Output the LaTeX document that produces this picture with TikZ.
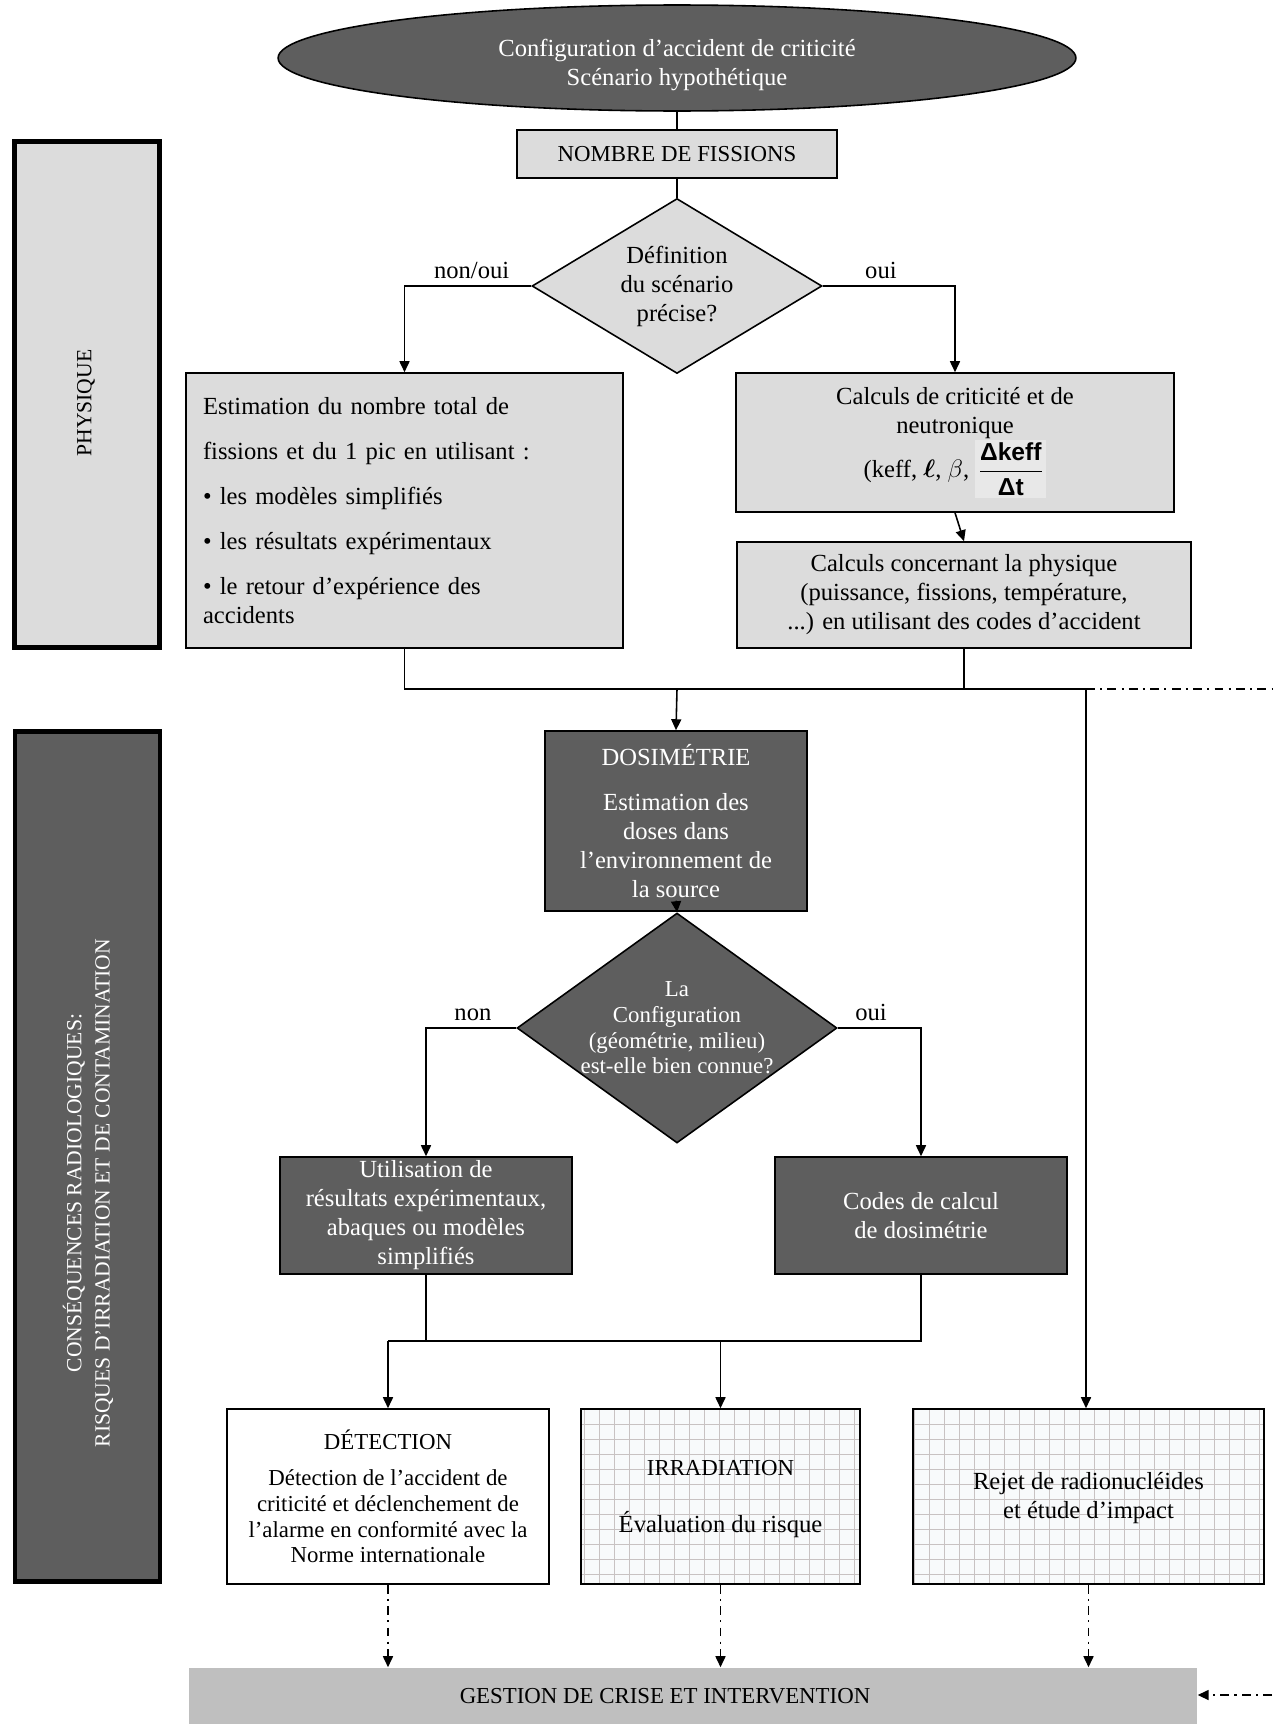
\documentclass[tikz,border=0pt]{standalone}
\usepackage{fontspec}
\usepackage{amsmath}
\setmainfont{Liberation Serif}
\newfontfamily\fracfont{Liberation Sans}
\usetikzlibrary{arrows.meta, positioning, shapes.geometric, backgrounds}

\definecolor{boxgray}{HTML}{DCDCDC}
\definecolor{darkfill}{HTML}{5E5E5E}
\definecolor{bargray}{HTML}{BFBFBF}
\definecolor{fracgray}{HTML}{E8E8E8}
\definecolor{gridbg}{HTML}{F8FAFB}
\definecolor{gridline}{HTML}{C8C2C2}

\newcommand{\fsmain}{\fontsize{14}{16.5}\selectfont}
\newcommand{\fscaps}{\fontsize{13}{16}\selectfont}
\newcommand{\fssmall}{\fontsize{13}{14.6}\selectfont}
\newcommand{\fsside}{\fontsize{12.3}{16}\selectfont}
\newcommand{\dkfrac}{{\setlength{\fboxsep}{1.5pt}\colorbox{fracgray}{$\dfrac{\text{\fracfont\bfseries Δkeff}}{\text{\fracfont\bfseries Δt}}$}}}

\begin{document}
\begin{tikzpicture}[x=0.02cm, y=-0.02cm,
  base/.style     = {draw, line width=0.9pt, align=center, font=\fsmain, inner sep=1pt},
  lbox/.style     = {base, fill=boxgray},
  dbox/.style     = {base, fill=darkfill, text=white},
  wbox/.style     = {base, fill=white},
  gbox/.style     = {base},
  ellnode/.style  = {ellipse, draw, line width=0.9pt, fill=darkfill, inner sep=0pt},
  elltext/.style  = {align=center, text=white, font=\fsmain, inner sep=0pt},
  decision/.style = {diamond, draw, line width=0.9pt, align=center, inner sep=0pt},
  conftext/.style = {align=center, text=white, font=\fssmall, inner sep=0pt},
  panel/.style    = {draw, line width=2.8pt, minimum width=2.9cm},
  sidetext/.style = {rotate=90, align=center, font=\fsside},
  lab/.style      = {font=\fsmain, inner sep=3.5pt},
  dd/.style       = {dash pattern=on 5pt off 3pt on 1.2pt off 3pt},
  >={Triangle[length=0.22cm, width=0.2cm]}, line width=0.9pt
]
  \useasboundingbox (0,0) rectangle (1272,1724);

  % side panels
  \node[panel, fill=boxgray, minimum height=10.12cm] (phy) at (87,394.5) {};
  \node[sidetext] (phyT) at (86,403) {PHYSIQUE};
  \node[panel, fill=darkfill, minimum height=17cm] (cons) at (87.5,1156.5) {};
  \node[sidetext, text=white] (consT) at (88,1193)
      {CONSÉQUENCES RADIOLOGIQUES:\\RISQUES D'IRRADIATION ET DE CONTAMINATION};

  % physique
  \node[ellnode, minimum width=15.96cm, minimum height=2.12cm,
        label={[elltext, yshift=-0.14cm]center:{Configuration d’accident de criticité\\Scénario hypothétique}}]
      (ell) at (677,58) {};
  \node[lbox, font=\fscaps, minimum width=6.4cm, minimum height=0.96cm] (nbf) at (677,154)
      {NOMBRE DE FISSIONS};
  \node[decision, fill=boxgray, font=\fsmain, aspect=1.66,
        minimum width=5.8cm, minimum height=3.5cm] (def) at (677,286)
      {Définition\\du scénario\\précise?};
  \node[lbox, text width=8.06cm, align=left, inner xsep=0.34cm, minimum height=5.5cm]
      (est) at (404.5,510.5)
      {Estimation du nombre total de\\[9pt]
       fissions et du 1 pic en utilisant :\\[9pt]
       • les modèles simplifiés\\[9pt]
       • les résultats expérimentaux\\[9pt]
       • le retour d’expérience des\\accidents};
  \node[lbox, minimum width=8.76cm, minimum height=2.78cm] (calc) at (955,442.5)
      {Calculs de criticité et de\\neutronique\\
       (keff, $\boldsymbol{\ell}$, $\beta$, \dkfrac};
  \node[lbox, minimum width=9.08cm, minimum height=2.12cm] (phys) at (964,595)
      {Calculs concernant la physique\\(puissance, fissions, température,\\
       ...) en utilisant des codes d’accident};

  \coordinate (jn) at (677,689);
  \coordinate (jr) at (1086,689);
  \coordinate (edgeA) at (1272,689);

  % dosimetrie
  \node[dbox, minimum width=5.24cm, minimum height=3.6cm] (dos) at (676,821)
      {DOSIMÉTRIE\\[9pt]Estimation des\\doses dans\\l’environnement de\\la source};
  \node[decision, fill=darkfill, aspect=1.39, minimum width=6.4cm, minimum height=4.6cm,
        label={[conftext]center:{La\\Configuration\\(géométrie, milieu)\\est-elle bien connue?}}]
      (conf) at (677,1028) {};
  \node[dbox, minimum width=5.84cm, minimum height=2.34cm] (util) at (426,1215.5)
      {Utilisation de\\résultats expérimentaux,\\abaques ou modèles\\simplifiés};
  \node[dbox, minimum width=5.84cm, minimum height=2.34cm] (codes) at (921,1215.5)
      {Codes de calcul\\de dosimétrie};

  \coordinate (jb) at (0,1341);

  % consequences
  \node[wbox, font=\fssmall, minimum width=6.44cm, minimum height=3.5cm] (det) at (388,1496.5)
      {{\fscaps DÉTECTION}\\[6pt]Détection de l’accident de\\criticité et déclenchement de\\
       l’alarme en conformité avec la\\Norme internationale};
  \node[gbox, minimum width=5.58cm, minimum height=3.5cm] (irr) at (720.5,1496.5)
      {\rule{0pt}{12pt}{\fscaps IRRADIATION}\\[16pt]Évaluation du risque};
  \node[gbox, minimum width=7.02cm, minimum height=3.5cm] (rej) at (1088.5,1496.5)
      {\rule{0pt}{12pt}Rejet de radionucléides\\et étude d’impact};
  \node[fill=bargray, font=\fscaps, minimum width=20.16cm, minimum height=1.12cm, inner sep=0pt]
      (bar) at (693,1696) {\hspace*{-1.12cm}GESTION DE CRISE ET INTERVENTION};
  \coordinate (edgeB) at (1272,1695);

  \begin{scope}[on background layer]
    \foreach \b in {irr, rej} {
      \fill[gridbg] (\b.south west) rectangle (\b.north east);
      \draw[gridline, line width=0.5pt, step=0.3cm] (\b.south west) grid (\b.north east);
    }
  \end{scope}

  % connectors
  \draw (ell.south) -- (nbf.north);
  \draw (nbf.south) -- (def.north);
  \draw[->] (def.west) -| node[lab, pos=0.235, above]{non/oui} (est.north);
  \draw[->] (def.east) -| node[lab, pos=0.22, above]{oui} (calc.north);
  \draw[->] (calc.south) -- (phys.north);
  \draw (est.south) |- (jr);
  \draw (phys.south) -- (phys.south |- jn);
  \draw[->] (jn) -- (dos.north);
  \draw[->] (jr) -- (jr |- rej.north);
  \draw[dd] (jr) -- (edgeA);
  \draw[->] ([yshift=0.22cm]dos.south) -- (conf.north);
  \draw[->] (conf.west) -| node[lab, pos=0.24, above]{non} (util.north);
  \draw[->] (conf.east) -| node[lab, pos=0.2, above]{oui} (codes.north);
  \draw (util.south) -- (util.south |- jb);
  \draw (codes.south) |- (det.north |- jb);
  \draw[->] (det.north |- jb) -- (det.north);
  \draw[->] (irr.north |- jb) -- (irr.north);
  \draw[dd, ->] (det.south) -- (det.south |- bar.north);
  \draw[dd, ->] (irr.south) -- (irr.south |- bar.north);
  \draw[dd, ->] (rej.south) -- (rej.south |- bar.north);
  \draw[dd, ->] (edgeB) -- (bar.east |- edgeB);
\end{tikzpicture}
\end{document}
